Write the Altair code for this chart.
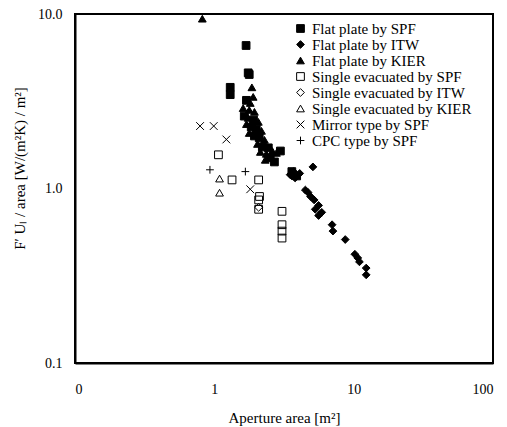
import altair as alt
import pandas as pd

series_names = [
    "Flat plate by SPF",
    "Flat plate by ITW",
    "Flat plate by KIER",
    "Single evacuated by SPF",
    "Single evacuated by ITW",
    "Single evacuated by KIER",
    "Mirror type by SPF",
    "CPC type by SPF",
]

fp_spf_x = [1.69, 1.30, 1.30, 1.75, 1.70, 1.64, 1.91, 1.84, 2.00, 1.94, 2.21, 2.44, 2.52, 2.70, 2.98, 3.60, 3.90, 1.78, 2.10]
fp_spf_y = [6.60, 3.80, 3.45, 4.60, 3.20, 2.60, 2.47, 2.25, 2.19, 2.00, 1.73, 1.71, 1.50, 1.42, 1.64, 1.25, 1.18, 4.50, 1.95]

fp_itw_x = [3.50, 3.70, 3.80, 3.60, 4.10, 5.10, 4.50, 4.70, 4.90, 5.20, 5.60, 5.30, 5.90, 5.60, 7.00, 7.10, 8.70, 10.2, 10.7, 11.0, 12.3, 12.3]
fp_itw_y = [1.20, 1.25, 1.15, 1.18, 1.22, 1.33, 0.98, 0.95, 0.90, 0.86, 0.80, 0.76, 0.73, 0.70, 0.62, 0.57, 0.51, 0.42, 0.40, 0.38, 0.35, 0.32]

fp_kier_x = [0.82, 1.86, 1.90, 1.81, 1.61, 1.78, 1.94, 1.75, 2.07, 1.70, 2.18, 1.78, 2.29, 2.04, 2.14, 2.36, 2.61, 2.32, 2.79]
fp_kier_y = [9.40, 3.80, 3.35, 3.09, 2.89, 2.82, 2.75, 2.54, 2.41, 2.34, 2.14, 2.08, 1.90, 1.80, 1.62, 1.58, 1.64, 1.46, 1.60]

se_spf_x = [1.07, 1.34, 2.08, 2.11, 2.08, 2.08, 3.06, 3.06, 3.06, 3.06]
se_spf_y = [1.56, 1.12, 1.12, 0.90, 0.86, 0.76, 0.74, 0.62, 0.57, 0.52]

se_itw_x = [2.08]
se_itw_y = [0.78]

se_kier_x = [1.09, 1.09]
se_kier_y = [1.14, 0.946]

mirror_x = [0.79, 0.99, 1.22, 1.81]
mirror_y = [2.28, 2.28, 1.91, 0.99]

cpc_x = [0.93, 1.67]
cpc_y = [1.28, 1.25]

all_x = [fp_spf_x, fp_itw_x, fp_kier_x, se_spf_x, se_itw_x, se_kier_x, mirror_x, cpc_x]
all_y = [fp_spf_y, fp_itw_y, fp_kier_y, se_spf_y, se_itw_y, se_kier_y, mirror_y, cpc_y]

rows = []
for name, xs, ys in zip(series_names, all_x, all_y):
    for xv, yv in zip(xs, ys):
        rows.append({"x": xv, "y": yv, "series": name})
df = pd.DataFrame(rows)

x_path = "M-1,-1L1,1M-1,1L1,-1"
plus_path = "M-1,0L1,0M0,-1L0,1"
shape_range = ["square", "diamond", "triangle-up", "square", "diamond", "triangle-up", x_path, plus_path]
fill_range = ["black", "black", "black", "transparent", "transparent", "transparent", "transparent", "transparent"]
stroke_range = ["black"] * 8

FONT = "Liberation Serif"

legend = alt.Legend(
    title=None,
    orient="none",
    legendX=218,
    legendY=7,
    labelFont=FONT,
    labelFontSize=15,
    labelColor="black",
    symbolStrokeColor="black",
    symbolStrokeWidth=1,
    symbolSize=60,
    rowPadding=0,
    labelOffset=4,
)

chart = alt.Chart(df).mark_point(filled=True, opacity=1, size=60, strokeWidth=1).encode(
    x=alt.X("x:Q", scale=alt.Scale(type="log", domain=[0.1, 100]),
            axis=alt.Axis(title="Aperture area [m²]", values=[0.1, 1, 10, 100],
                          labelExpr="datum.value < 0.5 ? '0' : format(datum.value, 'd')",
                          grid=False, ticks=False, tickSize=0,
                          domain=True, domainColor="black", domainWidth=2,
                          labelPadding=19, titlePadding=14,
                          labelFont=FONT, titleFont=FONT, labelFontSize=14, titleFontSize=15,
                          titleFontWeight="normal", labelColor="black", titleColor="black")),
    y=alt.Y("y:Q", scale=alt.Scale(type="log", domain=[0.1, 10]),
            axis=alt.Axis(title="F′ Uₗ / area [W/(m²K) / m²]", values=[0.1, 1, 10], format=".1f",
                          grid=False, ticks=False, tickSize=0,
                          domain=True, domainColor="black", domainWidth=2,
                          labelPadding=13, titlePadding=10, titleY=154,
                          labelFont=FONT, titleFont=FONT, labelFontSize=14, titleFontSize=15,
                          titleFontWeight="normal", labelColor="black", titleColor="black")),
    shape=alt.Shape("series:N", scale=alt.Scale(domain=series_names, range=shape_range), legend=legend),
    fill=alt.Fill("series:N", scale=alt.Scale(domain=series_names, range=fill_range), legend=legend),
    stroke=alt.Stroke("series:N", scale=alt.Scale(domain=series_names, range=stroke_range), legend=legend),
).properties(
    width=418,
    height=349,
    background="white",
    autosize=alt.AutoSizeParams(type="none"),
    padding={"left": 75, "top": 14, "right": 14, "bottom": 64},
).configure_view(
    stroke="#000000", strokeWidth=2, strokeOpacity=1
)

chart.save("out.html", embed_options={"renderer": "svg", "actions": False})
